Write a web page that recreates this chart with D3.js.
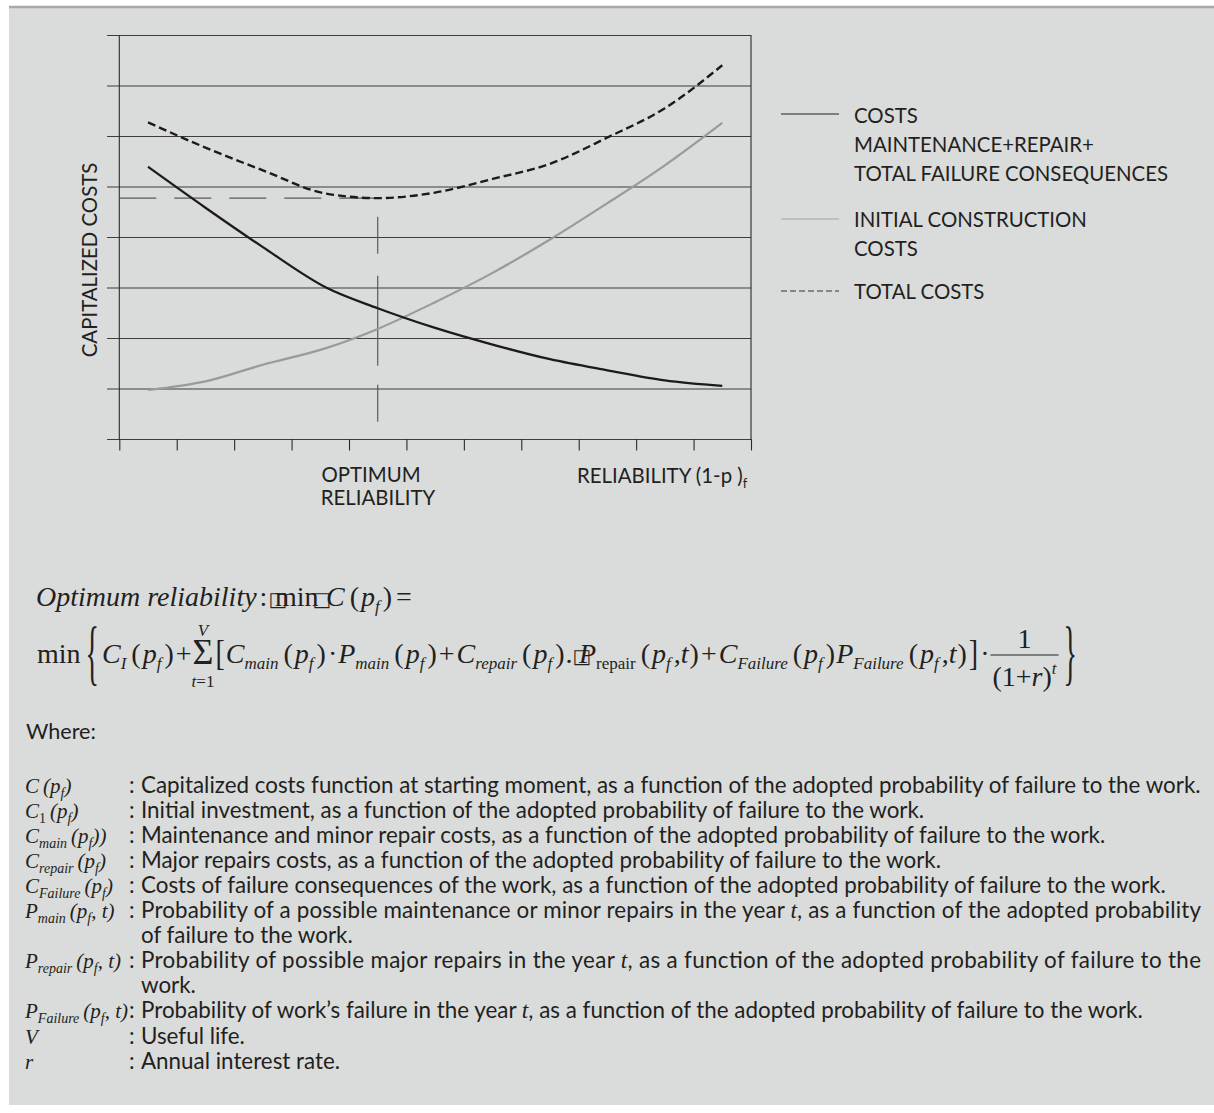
<!DOCTYPE html>
<html>
<head>
<meta charset="utf-8">
<script src="https://cdn.jsdelivr.net/npm/d3@7"></script>
<style>
  body { margin: 0; background: #ffffff; }
  svg { display: block; }
</style>
</head>
<body>
<div id="chart"></div>
<script>
// ******************************* DATA ****************************************
// Reliability positions (x units, one per tick interval) where the curves were read
var reliability = [0.5, 1.5, 2.5, 3.6, 4.5, 5.5, 6.5, 7.5, 8.5, 9.5, 10.5];
// Maintenance + repair + total failure consequences (solid black)
var maintenanceCosts = [5.39, 4.58, 3.80, 3.00, 2.59, 2.20, 1.87, 1.58, 1.36, 1.16, 1.05];
// Initial construction costs (solid grey)
var initialCosts = [0.97, 1.14, 1.47, 1.80, 2.18, 2.71, 3.29, 3.95, 4.67, 5.42, 6.26];
// Total costs (dashed)
var totalCosts = [6.27, 5.77, 5.32, 4.86, 4.77, 4.88, 5.15, 5.45, 5.97, 6.55, 7.40];
// Optimum (minimum of the total costs)
var optimumX = 4.5, optimumY = 4.77;
// Axes ticks (no tick labels in the picture)
var xTicks = d3.range(0, 12);
var yTicks = d3.range(0, 9);

var legendItems = [
  {lines: ["COSTS", "MAINTENANCE+REPAIR+", "TOTAL FAILURE CONSEQUENCES"], kind: "maint"},
  {lines: ["INITIAL CONSTRUCTION", "COSTS"], kind: "initial"},
  {lines: ["TOTAL COSTS"], kind: "total"}
];

var definitionTexts = [
  ["Capitalized costs function at starting moment, as a function of the adopted probability of failure to the work."],
  ["Initial investment, as a function of the adopted probability of failure to the work."],
  ["Maintenance and minor repair costs, as a function of the adopted probability of failure to the work."],
  ["Major repairs costs, as a function of the adopted probability of failure to the work."],
  ["Costs of failure consequences of the work, as a function of the adopted probability of failure to the work."],
  ["Probability of a possible maintenance or minor repairs in the year |t|, as a function of the adopted probability", "of failure to the work."],
  ["Probability of possible major repairs in the year |t|, as a function of the adopted probability of failure to the", "work."],
  ["Probability of work\u2019s failure in the year |t|, as a function of the adopted probability of failure to the work."],
  ["Useful life."],
  ["Annual interest rate."]
];

// ***************************** CANVAS ****************************************
var svgWidth = 1214, svgHeight = 1113;
var SANS = "Lato, 'Open Sans', sans-serif";
var SERIF = "'Liberation Serif', 'Times New Roman', serif";
var INK = "#231f20";
var LABEL_SIZE = 20.4;

var svg = d3.select("#chart").append("svg")
  .attr("width", svgWidth)
  .attr("height", svgHeight);

// grey panel with the top rule
svg.append("rect")
  .attr("x", 9).attr("y", 7)
  .attr("width", svgWidth - 9).attr("height", 1098)
  .attr("fill", "#d9dcdb");
svg.append("line")
  .attr("x1", 9).attr("x2", svgWidth)
  .attr("y1", 7).attr("y2", 7)
  .attr("stroke", "#a7a9a9").attr("stroke-width", 2.5);

// ***************************** SCALES ****************************************
var x = d3.scaleLinear().domain([0, 11]).range([119.3, 751]);
var y = d3.scaleLinear().domain([0, 8]).range([439, 35]);

var chartGroup = svg.append("g");

// horizontal grid lines with the small stubs on the left
chartGroup.append("g")
  .attr("transform", "translate(107,0)")
  .call(d3.axisLeft(y).tickValues(yTicks).tickSize(-(751 - 107)).tickFormat(""))
  .call(function(g) { g.select(".domain").remove(); })
  .selectAll("line").attr("stroke", "#3d3d3d").attr("stroke-width", 1.1);

// bottom ticks
chartGroup.append("g")
  .attr("transform", "translate(0,439)")
  .call(d3.axisBottom(x).tickValues(xTicks).tickSize(11.5).tickFormat(""))
  .call(function(g) { g.select(".domain").remove(); })
  .selectAll("line").attr("stroke", "#2a2a2a").attr("stroke-width", 1.1);

// frame verticals
[0, 11].forEach(function(v) {
  chartGroup.append("line")
    .attr("x1", x(v)).attr("x2", x(v))
    .attr("y1", y(8)).attr("y2", y(0))
    .attr("stroke", "#2a2a2a").attr("stroke-width", 1.1);
});

// optimum guide lines
chartGroup.append("line")
  .attr("x1", x(0)).attr("x2", x(optimumX))
  .attr("y1", y(optimumY)).attr("y2", y(optimumY))
  .attr("stroke", "#5a5a5a").attr("stroke-width", 1.2)
  .attr("stroke-dasharray", "37,18");
chartGroup.append("line")
  .attr("x1", x(optimumX)).attr("x2", x(optimumX))
  .attr("y1", y(optimumY - 0.37)).attr("y2", y(0.34))
  .attr("stroke", "#5a5a5a").attr("stroke-width", 1.2)
  .attr("stroke-dasharray", "37,22,90,19,40");

// ***************************** CURVES ****************************************
var lineGen = d3.line()
  .x(function(d, i) { return x(reliability[i]); })
  .y(function(d) { return y(d); })
  .curve(d3.curveMonotoneX);

chartGroup.append("path").datum(initialCosts)
  .attr("d", lineGen).attr("fill", "none")
  .attr("stroke", "#999b9b").attr("stroke-width", 2.2);

chartGroup.append("path").datum(maintenanceCosts)
  .attr("d", lineGen).attr("fill", "none")
  .attr("stroke", "#1c1a1a").attr("stroke-width", 2.3);

chartGroup.append("path").datum(totalCosts)
  .attr("d", lineGen).attr("fill", "none")
  .attr("stroke", "#1c1a1a").attr("stroke-width", 2.4)
  .attr("stroke-dasharray", "8,4");

// ***************************** LABELS ****************************************
svg.append("text")
  .attr("transform", "translate(96.5,260) rotate(-90)")
  .attr("text-anchor", "middle")
  .attr("font-family", SANS).attr("font-size", LABEL_SIZE).attr("fill", INK)
  .text("CAPITALIZED COSTS");

var optLabel = svg.append("text")
  .attr("text-anchor", "middle")
  .attr("font-family", SANS).attr("font-size", LABEL_SIZE).attr("fill", INK);
optLabel.append("tspan").attr("x", 371).attr("y", 482).text("OPTIMUM");
optLabel.append("tspan").attr("x", 378).attr("y", 505).text("RELIABILITY");

var relLabel = svg.append("text")
  .attr("x", 577).attr("y", 483)
  .attr("font-family", SANS).attr("font-size", LABEL_SIZE).attr("fill", INK);
relLabel.append("tspan").text("RELIABILITY (1-p )");
relLabel.append("tspan").attr("font-size", 13).attr("dy", 5).text("f");

// ***************************** LEGEND ****************************************
var legendRows = [[114, 122.7], [219, 226.7], [291, 299]];
legendItems.forEach(function(item, k) {
  var ly = legendRows[k][0];
  var sample = svg.append("line")
    .attr("x1", 781).attr("x2", 839).attr("y1", ly).attr("y2", ly)
    .attr("stroke-width", 1.1);
  if (item.kind === "maint") sample.attr("stroke", "#222");
  if (item.kind === "initial") sample.attr("stroke", "#a3a5a5");
  if (item.kind === "total") sample.attr("stroke", "#333").attr("stroke-dasharray", "6,3");
  item.lines.forEach(function(s, j) {
    svg.append("text")
      .attr("x", 854).attr("y", legendRows[k][1] + j * 29.2)
      .attr("font-family", SANS).attr("font-size", LABEL_SIZE).attr("fill", INK)
      .text(s);
  });
});

// ***************************** FORMULA ***************************************
// piece helpers: italic, upright, italic subscript, upright subscript
function I(t) { return {t: t, i: true}; }
function U(t) { return {t: t}; }
function Sb(t) { return {t: t, i: true, sub: true}; }
function Su(t) { return {t: t, sub: true}; }
var BOX = {t: "\u25a1", box: true};

function mathRow(g, x0, base, pieces, sz) {
  var cx = x0;
  pieces.forEach(function(p) {
    if (typeof p === "number") { cx += p; return; }
    if (p.sum) { cx = drawSum(g, cx, base); return; }
    if (p.frac) { cx = drawFrac(g, cx, base); return; }
    var size = p.sub ? sz.sub : (p.size || sz.main);
    var t = g.append("text")
      .attr("x", cx).attr("y", base + (p.sub ? sz.dy : 0))
      .attr("font-family", p.box ? "'DejaVu Sans', sans-serif" : SERIF)
      .attr("font-size", p.box ? sz.main * 0.7 : size)
      .attr("font-style", p.i ? "italic" : "normal")
      .attr("fill", INK)
      .text(p.t);
    if (p.sy) {
      var cy = base + p.cy;
      t.attr("transform", "translate(0," + cy + ") scale(1," + p.sy + ") translate(0," + (-cy) + ")");
    }
    cx += t.node().getComputedTextLength();
  });
  return cx;
}

function drawSum(g, cx, base) {
  var s = g.append("text").attr("x", cx).attr("y", base + 1)
    .attr("font-family", SERIF).attr("font-size", 36).attr("fill", INK).text("\u03a3");
  var w = s.node().getComputedTextLength();
  g.append("text").attr("x", cx + w / 2).attr("y", base - 27)
    .attr("text-anchor", "middle").attr("font-family", SERIF).attr("font-size", 17)
    .attr("font-style", "italic").attr("fill", INK).text("V");
  var lo = g.append("text").attr("x", cx + w / 2).attr("y", base + 24)
    .attr("text-anchor", "middle").attr("font-family", SERIF).attr("font-size", 17).attr("fill", INK);
  lo.append("tspan").attr("font-style", "italic").text("t");
  lo.append("tspan").text("=1");
  return cx + w + 2;
}

function drawFrac(g, cx, base) {
  var den = g.append("text").attr("x", cx + 2).attr("y", base + 23)
    .attr("font-family", SERIF).attr("font-size", 28).attr("fill", INK);
  den.append("tspan").text("(1+");
  den.append("tspan").attr("font-style", "italic").text("r");
  den.append("tspan").text(")");
  den.append("tspan").attr("font-style", "italic").attr("font-size", 17).attr("dy", -12).text("t");
  var w = den.node().getComputedTextLength() + 4;
  g.append("line").attr("x1", cx).attr("x2", cx + w)
    .attr("y1", base - 8).attr("y2", base - 8)
    .attr("stroke", INK).attr("stroke-width", 1.2);
  g.append("text").attr("x", cx + w / 2).attr("y", base - 15)
    .attr("text-anchor", "middle").attr("font-family", SERIF).attr("font-size", 28)
    .attr("fill", INK).text("1");
  return cx + w + 1;
}

var formula = svg.append("g");
var big = {main: 28, sub: 17, dy: 6};

var pf = [5, U("("), 2, I("p"), Sb("f"), 3, U(")")];
var pft = [5, U("("), 2, I("p"), Sb("f"), 3, U(","), I("t"), 1, U(")")];

var line1 = [I("Optimum reliability"), 3, U(":"), 1, BOX, -12, U("min"), -6, BOX, -5, I("C")]
  .concat(pf, [4, U("=")]);

var line2 = [U("min"), 5,
  {t: "{", sy: 2.6, cy: -8}, 3, I("C"), Sb("I")].concat(pf,
  [2, U("+"), 1, {sum: true}, {t: "[", sy: 1.25, cy: -8}, 1, I("C"), Sb("main")], pf,
  [2, U("\u00b7"), 1, I("P"), Sb("main")], pf,
  [2, U("+"), 2, I("C"), Sb("repair")], pf,
  [1, U("."), BOX, -12, I("P"), Su("repair")], pft,
  [2, U("+"), 2, I("C"), Sb("Failure")], pf,
  [1, I("P"), Sb("Failure")], pft,
  [2, {t: "]", sy: 1.25, cy: -8}, 2, U("\u00b7"), 1, {frac: true}, 4,
  {t: "}", sy: 2.6, cy: -8}]);

mathRow(formula, 36, 606, line1, big);
mathRow(formula, 37, 663, line2, big);

// ***************************** DEFINITIONS ***********************************
svg.append("text")
  .attr("x", 26).attr("y", 739)
  .attr("font-family", SANS).attr("font-size", 21.6).attr("fill", INK)
  .text("Where:");

var small = {main: 21, sub: 14, dy: 5};
var p1 = [4, I("(p"), Sb("f"), I(")")];
var p2 = [4, I("(p"), Sb("f"), I(", t)")];
var definitionSymbols = [
  [I("C")].concat(p1),
  [I("C"), Su("1")].concat(p1),
  [I("C"), Sb("main")].concat(p1, [I(")")]),
  [I("C"), Sb("repair")].concat(p1),
  [I("C"), Sb("Failure")].concat(p1),
  [I("P"), Sb("main")].concat(p2),
  [I("P"), Sb("repair")].concat(p2),
  [I("P"), Sb("Failure")].concat(p2),
  [I("V")],
  [I("r")]
];

// definitions text is fitted so the longest line runs from the column to the right margin
var textLeft = 141, textRight = 1201;
var probe = svg.append("text").attr("font-family", SANS).attr("font-size", 20)
  .text(definitionTexts[0][0]);
var defSize = 20 * (textRight - textLeft) / probe.node().getComputedTextLength();
probe.remove();
var fullWidth = textRight - textLeft;

var defs = svg.append("g");
var rowY = 793, rowStep = 25.05;
definitionSymbols.forEach(function(sym, k) {
  mathRow(defs, 25, rowY, sym, small);
  defs.append("text").attr("x", 129).attr("y", rowY)
    .attr("font-family", SANS).attr("font-size", defSize).attr("fill", INK).text(":");
  definitionTexts[k].forEach(function(lineText, j) {
    var t = defs.append("text").attr("x", textLeft).attr("y", rowY)
      .attr("font-family", SANS).attr("font-size", defSize).attr("fill", INK);
    lineText.split("|").forEach(function(part, n) {
      var ts = t.append("tspan").text(part);
      if (n % 2 === 1) ts.attr("font-family", SERIF).attr("font-style", "italic").attr("font-size", defSize + 1);
    });
    // first line of a wrapped definition is justified to the full width
    if (definitionTexts[k].length > 1 && j === 0) {
      t.attr("textLength", fullWidth).attr("lengthAdjust", "spacing");
    }
    rowY += rowStep;
  });
});
</script>
</body>
</html>
